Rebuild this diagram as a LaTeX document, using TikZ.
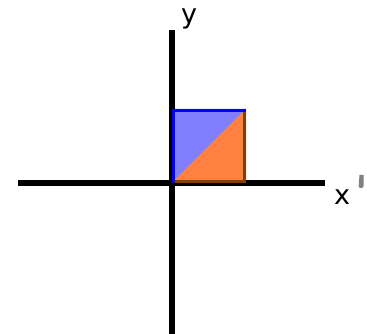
\documentclass[tikz,border=0pt]{standalone}
\usepackage{fontspec}
\setmainfont{DejaVu Sans}
\tikzset{
  axis/.style={line width=6pt},
  lbl/.style={inner sep=0pt, font=\fontsize{27}{27}\selectfont},
}
\begin{document}
\begin{tikzpicture}[x=1pt,y=-1pt]
\useasboundingbox (0,0) rectangle (367,334);
% square halves
\fill[fill={rgb,255:red,128;green,128;blue,255}] (172,109) -- (246,109) -- (172,183) -- cycle;
\fill[fill={rgb,255:red,255;green,128;blue,64}] (246,109) -- (246,183) -- (172,183) -- cycle;
% axes
\coordinate (yb) at (172,334);
\coordinate (yt) at (172,30);
\coordinate (xl) at (18,183);
\coordinate (xr) at (325,183);
\draw[axis] (yb) -- (yt);
\draw[axis] (xl) -- (xr);
% square edges
\draw[line width=3pt,color={rgb,255:red,128;green,64;blue,0}] (173.5,181.5) -- (244.5,181.5) -- (244.5,110.5);
\draw[line width=3pt,color=blue,line cap=rect] (173.5,181.5) -- (173.5,110.5) -- (244.5,110.5);
% labels
\node[lbl] (ylab) at (189,19) {y};
\node[lbl] (xlab) at (342,197) {x};
\fill[gray] (359.5,175) [rounded corners=2pt] -- (358.5,188) -- (363.5,188) [sharp corners] -- (363.5,175) -- cycle;
\end{tikzpicture}
\end{document}
